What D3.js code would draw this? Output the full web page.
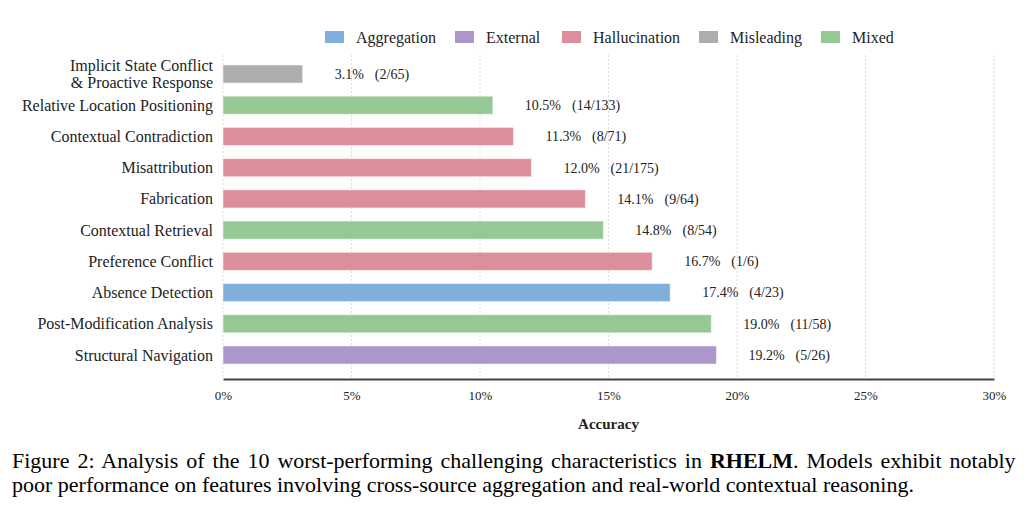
<!DOCTYPE html>
<meta charset="utf-8">
<style>
    body { margin: 0; background: #fff; }
    svg text { font-family: "Liberation Serif", serif; fill: #222; }
    .grid line { stroke: #ddd; stroke-dasharray: 2,2; }
</style>
<svg width="1024" height="505" font-family="Liberation Serif"></svg>
<script src="https://cdn.jsdelivr.net/npm/d3@7"></script>
<script>
    // data
    var labels = ["Implicit State Conflict\n& Proactive Response", "Relative Location Positioning",
        "Contextual Contradiction", "Misattribution", "Fabrication", "Contextual Retrieval",
        "Preference Conflict", "Absence Detection", "Post-Modification Analysis", "Structural Navigation"];
    var accuracy = [3.1, 10.5, 11.3, 12.0, 14.1, 14.8, 16.7, 17.4, 19.0, 19.2];
    var counts = ["2/65", "14/133", "8/71", "21/175", "9/64", "8/54", "1/6", "4/23", "11/58", "5/26"];
    var groups = ["Misleading", "Mixed", "Hallucination", "Hallucination", "Hallucination", "Mixed",
        "Hallucination", "Aggregation", "Mixed", "External"];
    var legendNames = ["Aggregation", "External", "Hallucination", "Misleading", "Mixed"];
    var legendColors = ["#80afdc", "#ac96cc", "#dc8f9b", "#adadad", "#95c894"];
    var xTicks = [0, 5, 10, 15, 20, 25, 30];

    var rows = labels.map(function (l, i) {
        return {label: l, value: accuracy[i], count: counts[i], group: groups[i]};
    });

    var svg = d3.select("svg");

    var x = d3.scaleLinear().domain([0, 30]).range([223, 994]);
    var y = d3.scaleBand().domain(d3.range(rows.length)).range([58.4, 370.6])
            .paddingInner(0.42).paddingOuter(0.21);
    var color = d3.scaleOrdinal().domain(legendNames).range(legendColors);

    // grid
    svg.append("g").attr("class", "grid")
            .selectAll("line").data(xTicks).enter().append("line")
            .attr("x1", function (d) { return x(d); })
            .attr("x2", function (d) { return x(d); })
            .attr("y1", 55).attr("y2", 379);

    // bars
    svg.append("g").selectAll("rect").data(rows).enter().append("rect")
            .attr("x", x(0))
            .attr("y", function (d, i) { return y(i); })
            .attr("width", function (d) { return x(d.value) - x(0); })
            .attr("height", y.bandwidth())
            .attr("fill", function (d) { return color(d.group); })
            .attr("stroke", "#fff").attr("stroke-opacity", 0.5).attr("stroke-width", 1);

    // value labels
    var vl = svg.append("g").selectAll("text").data(rows).enter().append("text")
            .attr("x", function (d) { return x(d.value) + 32; })
            .attr("y", function (d, i) { return y(i) + y.bandwidth() / 2; })
            .attr("dy", "0.35em")
            .style("font-size", "14px");
    vl.append("tspan").text(function (d) { return d.value.toFixed(1) + "%"; });
    vl.append("tspan").attr("dx", 11).text(function (d) { return "(" + d.count + ")"; });

    // category labels
    svg.append("g").selectAll("text").data(rows).enter().append("text")
            .attr("text-anchor", "end")
            .attr("y", function (d, i) { return y(i) + y.bandwidth() / 2; })
            .style("font-size", "16px")
            .each(function (d) {
                var parts = d.label.split("\n"), t = d3.select(this);
                parts.forEach(function (p, k) {
                    t.append("tspan").attr("x", 213)
                            .attr("dy", k == 0 ? (0.35 - (parts.length - 1) * 0.55) + "em" : "1.1em")
                            .text(p);
                });
            });

    // x axis
    var axis = svg.append("g").attr("transform", "translate(0,379)")
            .call(d3.axisBottom(x).tickValues(xTicks).tickSize(0).tickPadding(12)
                    .tickFormat(function (d) { return d + "%"; }));
    axis.attr("font-family", null);
    axis.select(".domain").attr("stroke", "#444").attr("stroke-width", 2);
    axis.selectAll("text").style("font-size", "13px").attr("fill", "#222");

    svg.append("text").attr("x", x(15)).attr("y", 424).attr("dy", "0.35em")
            .attr("text-anchor", "middle").style("font-size", "15px").style("font-weight", "bold")
            .text("Accuracy");

    // legend
    var lx = [325, 455, 562, 699, 821];
    var lg = svg.append("g").selectAll("g").data(legendNames).enter().append("g")
            .attr("transform", function (d, i) { return "translate(" + lx[i] + ",37)"; });
    lg.append("rect").attr("x", 0).attr("y", -6).attr("width", 19).attr("height", 12)
            .attr("fill", function (d) { return color(d); });
    lg.append("text").attr("x", 31).attr("dy", "0.35em").style("font-size", "16px")
            .text(function (d) { return d; });

    // caption (slightly condensed-looking serif in the original, stretched here)
    var cap = svg.append("g").attr("transform", "translate(12,0) scale(1.1,1)");
    var cap1 = cap.append("text").attr("x", 0).attr("y", 468).style("font-size", "20px").style("fill", "#000");
    cap1.append("tspan").text("Figure 2:  Analysis of the 10 worst-performing challenging characteristics in ");
    cap1.append("tspan").style("font-weight", "bold").text("RHELM");
    cap1.append("tspan").text(". Models exhibit notably");
    var w = cap1.node().getComputedTextLength();
    var gaps = cap1.text().split(" ").length - 1;
    cap1.style("word-spacing", ((1006 / 1.1 - w) / gaps) + "px");

    cap.append("text").attr("x", 0).attr("y", 492).style("font-size", "20px").style("fill", "#000")
            .text("poor performance on features involving cross-source aggregation and real-world contextual reasoning.");
</script>
